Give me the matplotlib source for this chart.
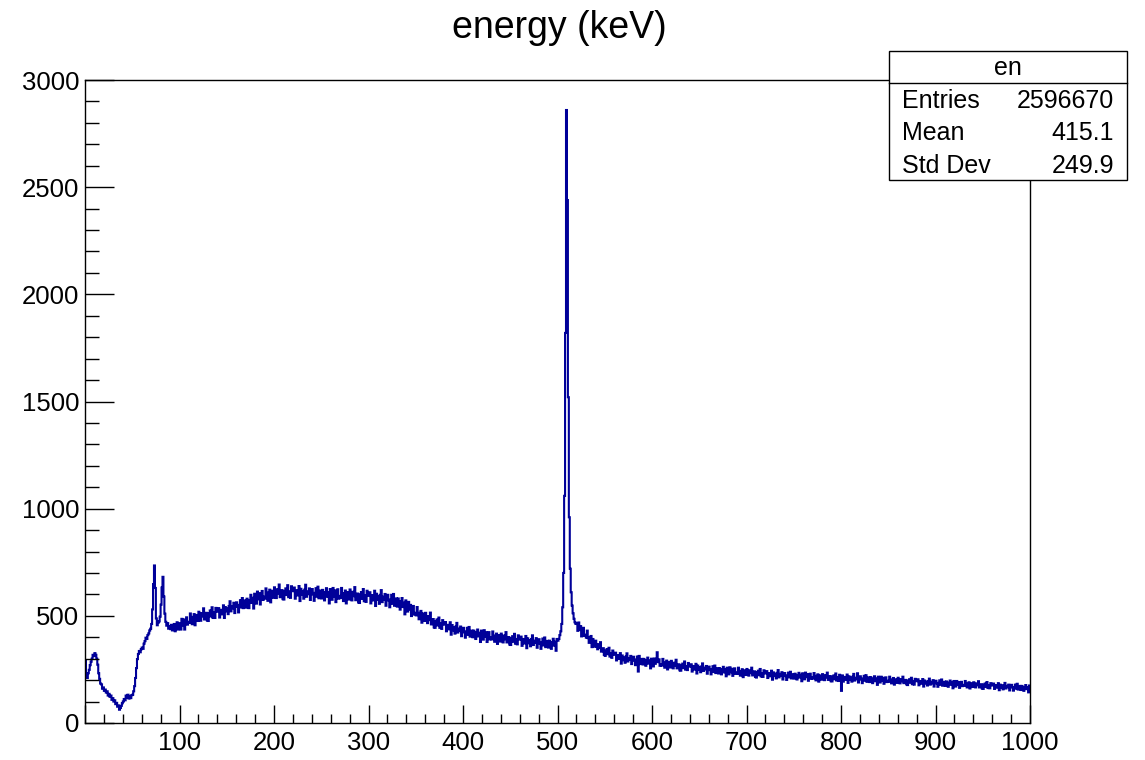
import numpy as np
import matplotlib
matplotlib.use("Agg")
import matplotlib.pyplot as plt
from matplotlib.patches import Rectangle
from matplotlib.lines import Line2D
from matplotlib.ticker import FixedLocator, MultipleLocator

plt.rcParams['font.family'] = ['Liberation Sans', 'DejaVu Sans']

title = "energy (keV)"
stats_name = "en"
stats_labels = ["Entries", "Mean", "Std Dev"]
stats_values = ["2596670", "415.1", "249.9"]

x_min, x_max, bin_width = 0, 1000, 1
x_ticks = [0, 100, 200, 300, 400, 500, 600, 700, 800, 900, 1000]
x_tick_labels = ["", "100", "200", "300", "400", "500", "600", "700", "800", "900", "1000"]
y_ticks = [0, 500, 1000, 1500, 2000, 2500, 3000]
y_tick_labels = ["0", "500", "1000", "1500", "2000", "2500", "3000"]

# counts per 1 keV bin
counts_000 = [
    290, 215, 210, 232, 248, 270, 286, 300, 318, 312,
    326, 318, 300, 272, 232, 206, 184, 180, 160, 166,
    150, 156, 142, 148, 128, 136, 122, 128, 108, 116,
    100, 106, 88, 94, 76, 82, 62, 70, 80, 92,
    100, 112, 106, 128, 118, 132, 114, 126, 116, 130,
    132, 148, 172, 210, 256, 298, 322, 336, 330, 344,
    352, 346, 370, 382, 398, 392, 410, 418, 432, 440,
    462, 530, 648, 735, 630, 488, 456, 468, 474, 496,
    552, 632, 682, 590, 510, 472, 454, 466, 440, 452,
    438, 458, 432, 446, 462, 428, 448, 470, 436, 452,
]
counts_100 = [
    466, 436, 486, 455, 483, 436, 473, 493, 459, 472,
    467, 511, 479, 461, 495, 508, 456, 504, 494, 476,
    519, 487, 477, 513, 497, 535, 483, 495, 514, 478,
    476, 513, 525, 497, 540, 490, 515, 490, 537, 523,
    519, 536, 492, 528, 507, 520, 549, 490, 541, 535,
    521, 508, 546, 568, 521, 545, 535, 561, 513, 555,
    563, 542, 516, 551, 573, 539, 583, 536, 555, 572,
    538, 580, 572, 536, 573, 598, 560, 584, 534, 603,
    592, 557, 613, 577, 606, 553, 594, 616, 574, 589,
    580, 628, 592, 570, 609, 622, 563, 617, 605, 584,
]
counts_200 = [
    633, 595, 583, 624, 604, 646, 587, 599, 620, 578,
    576, 616, 628, 597, 643, 587, 614, 584, 638, 620,
    615, 632, 580, 620, 595, 607, 639, 569, 626, 616,
    598, 580, 622, 645, 589, 614, 601, 628, 574, 617,
    625, 600, 570, 607, 629, 589, 636, 582, 601, 618,
    581, 621, 610, 572, 607, 629, 589, 611, 558, 625,
    612, 575, 630, 591, 619, 564, 604, 624, 580, 593,
    583, 630, 592, 569, 606, 618, 558, 611, 598, 576,
    623, 585, 572, 612, 592, 634, 573, 585, 604, 562,
    560, 600, 611, 579, 625, 568, 595, 565, 617, 598,
]
counts_300 = [
    593, 610, 558, 597, 572, 585, 617, 546, 603, 593,
    575, 556, 598, 620, 564, 589, 575, 602, 547, 590,
    598, 572, 540, 576, 598, 556, 602, 547, 565, 581,
    543, 581, 569, 529, 562, 583, 541, 561, 507, 572,
    556, 520, 565, 529, 551, 499, 531, 546, 506, 514,
    502, 541, 506, 484, 514, 523, 468, 511, 498, 476,
    514, 479, 466, 499, 480, 515, 460, 469, 485, 446,
    444, 474, 483, 455, 492, 444, 465, 439, 480, 464,
    459, 471, 428, 458, 437, 445, 470, 412, 457, 447,
    432, 417, 450, 467, 422, 440, 429, 450, 405, 440,
]
counts_400 = [
    444, 423, 398, 427, 444, 411, 448, 403, 418, 431,
    400, 431, 423, 392, 419, 436, 404, 421, 378, 431,
    420, 389, 433, 402, 424, 378, 410, 424, 390, 399,
    390, 427, 396, 379, 408, 417, 369, 410, 399, 380,
    417, 387, 376, 408, 391, 424, 376, 385, 401, 366,
    364, 396, 405, 379, 416, 370, 392, 367, 409, 394,
    389, 403, 360, 392, 371, 381, 406, 349, 395, 387,
    372, 358, 392, 409, 364, 384, 374, 396, 351, 386,
    391, 371, 346, 376, 394, 362, 399, 354, 370, 383,
    352, 384, 376, 346, 375, 393, 361, 379, 337, 392,
]
counts_500 = [
    384, 392, 410, 428, 462, 540, 700, 1060, 1820, 2860,
    2440, 1520, 960, 720, 610, 548, 512, 486, 470, 462,
    465, 430, 469, 434, 452, 404, 432, 444, 406, 412,
    398, 431, 396, 374, 400, 406, 354, 392, 378, 356,
    384, 355, 344, 368, 351, 377, 333, 339, 349, 318,
    313, 338, 345, 321, 351, 310, 326, 304, 338, 324,
    318, 328, 292, 317, 299, 305, 326, 277, 315, 306,
    293, 281, 310, 325, 287, 303, 295, 313, 275, 304,
    309, 291, 270, 296, 310, 240, 313, 275, 288, 299,
    273, 299, 292, 267, 289, 305, 277, 292, 255, 300,
]
counts_600 = [
    290, 264, 301, 276, 295, 330, 284, 297, 267, 275,
    268, 299, 274, 258, 283, 291, 250, 285, 276, 259,
    290, 264, 255, 281, 267, 295, 255, 262, 274, 246,
    244, 269, 277, 256, 287, 249, 265, 247, 280, 268,
    263, 274, 240, 266, 249, 256, 276, 231, 268, 261,
    248, 237, 264, 278, 243, 258, 250, 266, 230, 259,
    263, 247, 227, 251, 265, 238, 268, 233, 245, 256,
    231, 256, 250, 227, 248, 262, 236, 250, 218, 258,
    250, 227, 260, 237, 253, 220, 244, 255, 229, 236,
    229, 258, 235, 221, 243, 251, 214, 246, 237, 224,
]
counts_700 = [
    252, 229, 221, 246, 233, 258, 222, 229, 241, 215,
    212, 237, 244, 223, 252, 217, 233, 215, 246, 235,
    231, 242, 210, 233, 218, 224, 244, 202, 236, 230,
    219, 208, 234, 247, 213, 229, 220, 237, 203, 230,
    233, 219, 201, 222, 235, 213, 239, 208, 220, 228,
    207, 230, 224, 203, 222, 234, 212, 225, 195, 232,
    225, 204, 235, 214, 228, 197, 220, 230, 206, 213,
    207, 233, 212, 199, 220, 227, 193, 222, 214, 202,
    228, 207, 200, 223, 212, 235, 201, 208, 219, 195,
    194, 216, 222, 204, 231, 198, 214, 196, 225, 216,
]
counts_800 = [
    150, 222, 193, 215, 201, 208, 226, 187, 218, 212,
    202, 193, 216, 229, 198, 211, 204, 232, 189, 214,
    218, 203, 186, 207, 220, 197, 223, 192, 204, 213,
    191, 214, 207, 186, 206, 218, 195, 208, 178, 216,
    208, 189, 216, 197, 211, 183, 204, 213, 191, 197,
    192, 216, 196, 185, 203, 210, 179, 204, 198, 187,
    211, 192, 185, 205, 195, 216, 186, 191, 201, 180,
    177, 198, 204, 188, 211, 181, 196, 179, 206, 197,
    195, 204, 176, 196, 183, 190, 205, 170, 198, 193,
    184, 175, 196, 207, 179, 192, 185, 200, 170, 194,
]
counts_900 = [
    197, 185, 169, 187, 199, 178, 203, 174, 185, 192,
    173, 194, 188, 169, 187, 198, 178, 189, 162, 196,
    188, 170, 196, 178, 191, 164, 183, 192, 172, 178,
    173, 196, 178, 166, 184, 190, 161, 186, 179, 168,
    190, 172, 166, 185, 176, 195, 166, 172, 181, 161,
    159, 179, 184, 168, 191, 163, 176, 162, 186, 178,
    175, 184, 159, 177, 165, 171, 186, 153, 179, 175,
    165, 157, 177, 187, 161, 173, 167, 179, 152, 174,
    178, 166, 151, 168, 179, 160, 183, 156, 166, 173,
    154, 173, 168, 150, 166, 177, 158, 168, 143, 175,
]

counts = np.array(counts_000 + counts_100 + counts_200 + counts_300 + counts_400
                  + counts_500 + counts_600 + counts_700 + counts_800 + counts_900)
edges = np.arange(x_min, x_max + bin_width, bin_width)

W, H = 1145, 760
fig = plt.figure(figsize=(W / 100, H / 100), dpi=100)
fig.patch.set_facecolor('white')
ax = fig.add_axes([85 / W, 1 - 723 / H, (1030 - 85) / W, (723 - 80) / H])
ax.stairs(counts, edges, color='#000099', lw=1.5, baseline=None)
ax.set_xlim(x_min, x_max)
ax.set_ylim(0, 3000)

ax.xaxis.set_major_locator(FixedLocator(x_ticks))
ax.set_xticklabels(x_tick_labels)
ax.xaxis.set_minor_locator(MultipleLocator(20))
ax.yaxis.set_major_locator(FixedLocator(y_ticks))
ax.set_yticklabels(y_tick_labels)
ax.yaxis.set_minor_locator(MultipleLocator(100))

ax.tick_params(axis='x', which='major', direction='in', length=13, width=1,
               labelsize=18.5, pad=6, top=False)
ax.tick_params(axis='x', which='minor', direction='in', length=6.5, width=1, top=False)
ax.tick_params(axis='y', which='major', direction='in', length=21, width=1,
               labelsize=18.5, pad=4, right=False)
ax.tick_params(axis='y', which='minor', direction='in', length=10, width=1, right=False)
for s in ax.spines.values():
    s.set_linewidth(1.0)
    s.set_color('black')

# title
fig.text(559 / W, 1 - 38 / H, title, ha='center', va='baseline', fontsize=27)

# stats box
bx0, bx1, by0, by1, bsep = 889, 1127, 51, 180, 83
fig.add_artist(Rectangle((bx0 / W, 1 - by1 / H), (bx1 - bx0) / W, (by1 - by0) / H,
                         transform=fig.transFigure, facecolor='white',
                         edgecolor='black', lw=1.0, zorder=5))
fig.add_artist(Line2D([bx0 / W, bx1 / W], [1 - bsep / H, 1 - bsep / H],
                      transform=fig.transFigure, color='black', lw=1.0, zorder=6))
fig.text((bx0 + bx1) / 2 / W, 1 - 75 / H, stats_name, ha='center', va='baseline',
         fontsize=18, zorder=7)
for i, (lab, val) in enumerate(zip(stats_labels, stats_values)):
    yb = 1 - (108 + 32.5 * i) / H
    fig.text(902 / W, yb, lab, ha='left', va='baseline', fontsize=18, zorder=7)
    fig.text(1114 / W, yb, val, ha='right', va='baseline', fontsize=18, zorder=7)

fig.savefig("out.png", dpi=100)
